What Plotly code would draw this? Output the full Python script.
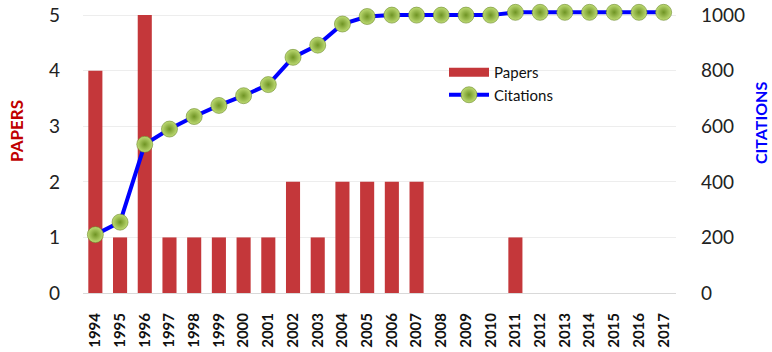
import plotly.graph_objects as go

years = [str(y) for y in range(1994, 2018)]
papers = [4, 1, 5, 1, 1, 1, 1, 1, 2, 1, 2, 2, 2, 2, 0, 0, 0, 1, 0, 0, 0, 0, 0, 0]
citations = [210, 255, 535, 590, 635, 675, 710, 750, 848, 892, 968, 995,
             1000, 1000, 1000, 1000, 1000, 1010, 1010, 1010, 1010, 1010, 1010, 1010]
paper_ticks = [0, 1, 2, 3, 4, 5]
citation_ticks = [0, 200, 400, 600, 800, 1000]

FONT = "Lato"
BAR_RED = "#C4373A"

# plot area in pixels
W, H = 772, 352
PL, PR, PT, PB = 83, 676, 4, 293

fig = go.Figure()

fig.add_trace(go.Bar(
    x=years, y=papers, name="Papers", width=0.57, showlegend=False,
    legendgroup="papers",
    marker=dict(color=BAR_RED, line=dict(width=0)),
))

# wide swatch for the Papers legend entry
fig.add_trace(go.Scatter(
    x=[None], y=[None], name="Papers", mode="lines", legendgroup="papers",
    line=dict(color=BAR_RED, width=9),
))

fig.add_trace(go.Scatter(
    x=years, y=citations, name="Citations", yaxis="y2",
    mode="lines+markers", cliponaxis=False,
    line=dict(color="#0000FF", width=4),
    marker=dict(size=16, color="#BEDB74",
                gradient=dict(type="radial", color="#6F9424"),
                line=dict(color="#6B8A2A", width=0.6)),
))


def px_to_paper(x, y):
    return (x - PL) / (PR - PL), (PB - y) / (PB - PT)


lx, ly = px_to_paper(444, 56)
ax, ay = px_to_paper(16, 131)
bx, by = px_to_paper(760, 123)

fig.update_layout(
    width=W, height=H,
    margin=dict(l=PL, r=W - PR, t=PT, b=H - PB, autoexpand=False),
    paper_bgcolor="white", plot_bgcolor="white",
    font=dict(family=FONT, color="#222222"),
    showlegend=True,
    legend=dict(x=lx, y=ly, xanchor="left", yanchor="top",
                bgcolor="rgba(0,0,0,0)", font=dict(size=15, color="#111111"),
                itemwidth=40, tracegroupgap=0),
    xaxis=dict(
        type="category", tickangle=-90, automargin=False,
        range=[-0.5, len(years) - 0.5],
        tickfont=dict(size=15, family=FONT, color="#111111", weight="bold"),
        showgrid=False, showline=False, ticks="", ticklabelstandoff=16,
    ),
    yaxis=dict(
        range=[0, 5.2], tickvals=paper_ticks, automargin=False,
        tickfont=dict(size=19, color="#222222"),
        gridcolor="#EDEDED", gridwidth=1, zeroline=True,
        zerolinecolor="#D9D9D9", zerolinewidth=1,
        ticklabelstandoff=22, showline=False,
    ),
    yaxis2=dict(
        range=[0, 1040], tickvals=citation_ticks, overlaying="y", side="right",
        automargin=False, tickfont=dict(size=19, color="#222222"),
        showgrid=False, zeroline=False, ticklabelstandoff=24, showline=False,
    ),
    annotations=[
        dict(text="<b>PAPERS</b>", x=ax, y=ay, xref="paper", yref="paper",
             xanchor="center", yanchor="middle", textangle=-90, showarrow=False,
             font=dict(size=17, color="#C00000", family=FONT)),
        dict(text="<b>CITATIONS</b>", x=bx, y=by, xref="paper", yref="paper",
             xanchor="center", yanchor="middle", textangle=-90, showarrow=False,
             font=dict(size=16, color="#0000FF", family=FONT)),
    ],
)

fig.write_html("out.html")
